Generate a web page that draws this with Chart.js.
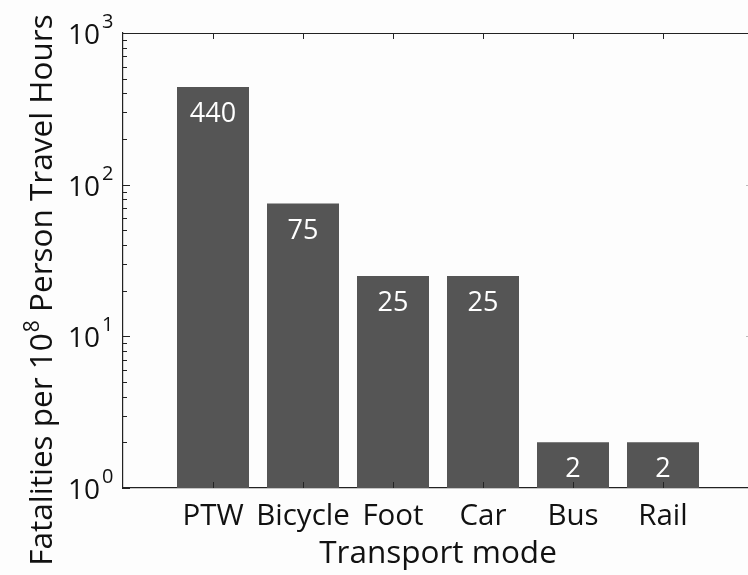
<!DOCTYPE html>
<html>
<head>
<meta charset="utf-8">
<script src="https://cdn.jsdelivr.net/npm/chart.js@4"></script>
<style>
  html, body { margin: 0; padding: 0; overflow: hidden; background: #fdfdfd; }
  #wrap { width: 775px; height: 575px; }
</style>
</head>
<body>
<div id="wrap"><canvas id="chart"></canvas></div>
<script>
// data
const modes = ["", "PTW", "Bicycle", "Foot", "Car", "Bus", "Rail", ""];
const fatalities = [null, 440, 75, 25, 25, 2, 2, null];
const decades = [1, 10, 100, 1000];
const decadeExp = ["0", "1", "2", "3"];

const FONT = "'Open Sans', 'Liberation Sans', sans-serif";
const AXIS = "#222";

// ticks, frame, value labels and y-axis text with superscripts
const extras = {
    id: "extras",
    afterDatasetsDraw(chart) {
        const ctx = chart.ctx;
        const a = chart.chartArea;
        const y = chart.scales.y;
        const x = chart.scales.x;
        ctx.save();

        // values inside the bars
        const meta = chart.getDatasetMeta(0);
        ctx.fillStyle = "#fff";
        ctx.font = "27px " + FONT;
        ctx.textAlign = "center";
        ctx.textBaseline = "alphabetic";
        meta.data.forEach((bar, i) => {
            if (fatalities[i] == null) return;
            ctx.fillText(String(fatalities[i]), bar.x, bar.y + 35);
        });

        // frame
        ctx.strokeStyle = AXIS;
        ctx.lineWidth = 1.2;
        ctx.beginPath();
        ctx.moveTo(a.left, a.top + 0.5);
        ctx.lineTo(a.right, a.top + 0.5);
        ctx.moveTo(a.right - 0.5, a.top);
        ctx.lineTo(a.right - 0.5, a.bottom);
        ctx.stroke();

        // log ticks on the left, inward
        ctx.lineWidth = 1;
        ctx.beginPath();
        for (let d = 0; d < 3; d++) {
            for (let m = 1; m <= 9; m++) {
                const v = decades[d] * m;
                const py = Math.round(y.getPixelForValue(v)) + 0.5;
                const len = m === 1 ? 7 : 4;
                ctx.moveTo(a.left, py); ctx.lineTo(a.left + len, py);
            }
        }
        // category ticks top and bottom
        for (let i = 1; i < modes.length - 1; i++) {
            const px = Math.round(x.getPixelForValue(i)) + 0.5;
            ctx.moveTo(px, a.top); ctx.lineTo(px, a.top + 6);
            ctx.moveTo(px, a.bottom); ctx.lineTo(px, a.bottom - 6);
        }
        ctx.stroke();
        // right-hand ticks are only faintly visible at the cropped edge
        ctx.strokeStyle = "#bbb";
        ctx.beginPath();
        for (let d = 1; d < 3; d++) {
            const py = Math.round(y.getPixelForValue(decades[d])) + 0.5;
            ctx.moveTo(a.right, py); ctx.lineTo(a.right - 7, py);
        }
        ctx.stroke();

        // y tick labels 10^n
        ctx.fillStyle = "#111";
        decades.forEach((v, i) => {
            const py = y.getPixelForValue(v);
            ctx.font = "28px " + FONT;
            ctx.textAlign = "right";
            ctx.fillText("10", 100, py + 11);
            ctx.font = "20px " + FONT;
            ctx.textAlign = "left";
            ctx.fillText(decadeExp[i], 102, py - 5);
        });

        // y title, rotated, with superscript 8
        const big = "31.5px " + FONT, small = "21px " + FONT;
        const p1 = "Fatalities per 10", p2 = "8", p3 = " Person Travel Hours";
        ctx.font = big;
        const w1 = ctx.measureText(p1).width, w3 = ctx.measureText(p3).width;
        ctx.font = small;
        const w2 = ctx.measureText(p2).width;
        const total = w1 + w2 + w3 + 1;
        ctx.translate(52, 290);
        ctx.rotate(-Math.PI / 2);
        ctx.textAlign = "left";
        let sx = -total / 2;
        ctx.font = big;
        ctx.fillText(p1, sx, 0);
        sx += w1;
        ctx.font = small;
        ctx.fillText(p2, sx + 1, -13);
        sx += w2 + 1;
        ctx.font = big;
        ctx.fillText(p3, sx, 0);
        ctx.restore();
    }
};

new Chart(document.getElementById("chart"), {
    type: "bar",
    data: {
        labels: modes,
        datasets: [{
            data: fatalities,
            backgroundColor: "#555555",
            borderWidth: 0,
            categoryPercentage: 0.8,
            barPercentage: 1
        }]
    },
    options: {
        responsive: true,
        maintainAspectRatio: false,
        animation: false,
        layout: { padding: { left: 0, right: 22, top: 33, bottom: 2 } },
        plugins: { legend: { display: false }, tooltip: { enabled: false } },
        scales: {
            x: {
                offset: false,
                grid: { display: false },
                border: { display: true, color: AXIS, width: 1.2 },
                ticks: {
                    color: "#111",
                    font: { family: FONT, size: 29.5 },
                    maxRotation: 0,
                    autoSkip: false,
                    padding: 3
                },
                title: {
                    display: true,
                    text: "Transport mode",
                    color: "#111",
                    font: { family: FONT, size: 31.5 },
                    padding: { top: 0, bottom: 0 }
                },
                afterFit(scale) { scale.height = 85; }
            },
            y: {
                type: "logarithmic",
                min: 1,
                max: 1000,
                grid: { display: false },
                border: { display: true, color: AXIS, width: 1.2 },
                ticks: { display: false },
                afterFit(scale) { scale.width = 123; }
            }
        }
    },
    plugins: [extras]
});
</script>
</body>
</html>
